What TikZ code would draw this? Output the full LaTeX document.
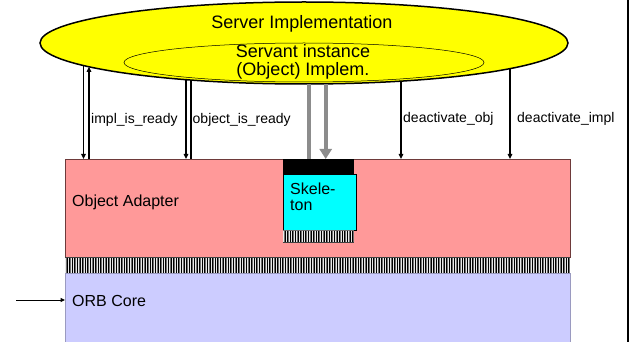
\documentclass[tikz,border=0pt]{standalone}
\usepackage{fontspec}
\setmainfont{Liberation Sans}
\usetikzlibrary{shapes.geometric,arrows.meta}
\definecolor{oapink}{HTML}{FF9999}
\definecolor{oaedge}{HTML}{6E3A3A}
\definecolor{orbblue}{HTML}{CCCCFF}
\definecolor{orbedge}{HTML}{9A9AC0}
\definecolor{skcyan}{HTML}{00FFFF}
\definecolor{srvyellow}{HTML}{FFFF00}
\definecolor{arrgray}{HTML}{8C8C8C}
\definecolor{hatchbg}{HTML}{707070}
\definecolor{hatchlight}{HTML}{E8E8E8}
\begin{document}
\begin{tikzpicture}[x=1pt,y=-1pt,
  lbl/.style={anchor=base west,inner sep=0pt,font=\fontsize{14}{16}\selectfont},
  big/.style={anchor=base,inner sep=0pt,font=\fontsize{18}{18}\selectfont},
  mid/.style={anchor=base west,inner sep=0pt,font=\fontsize{16}{17}\selectfont},
  callarr/.style={line width=1.3pt,-{Triangle[length=5pt,width=4.5pt]}},
  callline/.style={line width=1.3pt},
  grayline/.style={line width=4pt,arrgray},
  grayarr/.style={line width=4pt,arrgray,-{Triangle[length=10pt,width=12pt]}},
  layer/.style={rectangle,inner sep=0pt,anchor=north west}
]
\useasboundingbox (0,0) rectangle (629,342);

% layers
\node[layer,draw=oaedge,line width=0.8pt,fill=oapink,minimum width=505pt,minimum height=98pt] (oa) at (65,159) {};
\fill[hatchbg] (65,257) rectangle (570,273);
\foreach \i in {0,...,193}{
  \draw[hatchlight,line width=0.6pt] ({65.6+2.6*\i},257) -- ++(0,16);
  \draw[black,line width=0.8pt] ({66.9+2.6*\i},257) -- ++(0,16);
}
\draw[line width=0.8pt,black!75] (65,257) -- (570,257) (65,273) -- (570,273);
\node[layer,draw=orbedge,line width=0.8pt,fill=orbblue,minimum width=505pt,minimum height=70pt] (orb) at (65,273) {};

% skeleton
\fill[black] (283,159) rectangle (354,174);
\node[layer,draw=black,line width=0.8pt,fill=skcyan,minimum width=72.5pt,minimum height=56pt] (skel) at (283,174) {};
\fill[hatchbg] (283,230) rectangle (354,242);
\foreach \i in {0,...,26}{
  \draw[hatchlight,line width=0.6pt] ({283.6+2.6*\i},230.5) -- ++(0,11.5);
  \draw[black,line width=0.8pt] ({284.9+2.6*\i},230.5) -- ++(0,11.5);
}
\draw[line width=0.6pt,black!75] (283,242) -- (354,242);

% texts in layers
\node[mid] (oatext) at (72,206) {Object Adapter};
\node[mid] (orbtext) at (72,306) {ORB Core};
\node[mid] (sk1) at (290,194) {Skele-};
\node[mid] (sk2) at (290,210.5) {ton};

% server ellipses
\node[ellipse,draw,line width=1.5pt,fill=srvyellow,minimum width=528pt,minimum height=82pt,inner sep=0pt] (server) at (304,43) {};
\node[ellipse,draw,line width=0.5pt,fill=srvyellow,minimum width=360pt,minimum height=39pt,inner sep=0pt] (servant) at (304,62.5) {};
\node[big] (srvtext) at (302,29) {Server Implementation};
\node[big] (sv1) at (303,57.5) {Servant instance};
\node[big] (sv2) at (303,75.5) {(Object) Implem.};

% attachment points on the server ellipse
\coordinate (e1) at (83.5,66);
\coordinate (e2) at (89,66.8);
\coordinate (e3) at (186,79.5);
\coordinate (e4) at (191,80);
\coordinate (e5) at (309,84);
\coordinate (e6) at (325.7,84);
\coordinate (e7) at (401,81);
\coordinate (e8) at (510,68.5);

\draw[callarr] (e1) -- (e1 |- oa.north);
\draw[callarr] (e2 |- oa.north) -- (e2);
\draw[callarr] (e3) -- (e3 |- oa.north);
\draw[callline] (e4 |- oa.north) -- (e4);
\draw[grayline] (e5 |- oa.north) -- (e5);
\draw[grayarr] (e6) -- (e6 |- oa.north);
\draw[callarr] (e7) -- (e7 |- oa.north);
\draw[callarr] (e8) -- (e8 |- oa.north);

% call labels
\node[lbl] (l1) at (91,124) {impl\_is\_ready};
\node[lbl] (l2) at (192.5,124) {object\_is\_ready};
\node[lbl] (l3) at (403,122.5) {deactivate\_obj};
\node[lbl] (l4) at (517,122.5) {deactivate\_impl};

% ORB core input
\coordinate (orbsrc) at (16,300);
\draw[line width=1pt,-{Triangle[length=4.5pt,width=4pt]}] (orbsrc) -- (orbsrc -| orb.west);

% right border
\draw[line width=2pt] (627.8,0) -- (627.8,342);
\end{tikzpicture}
\end{document}
